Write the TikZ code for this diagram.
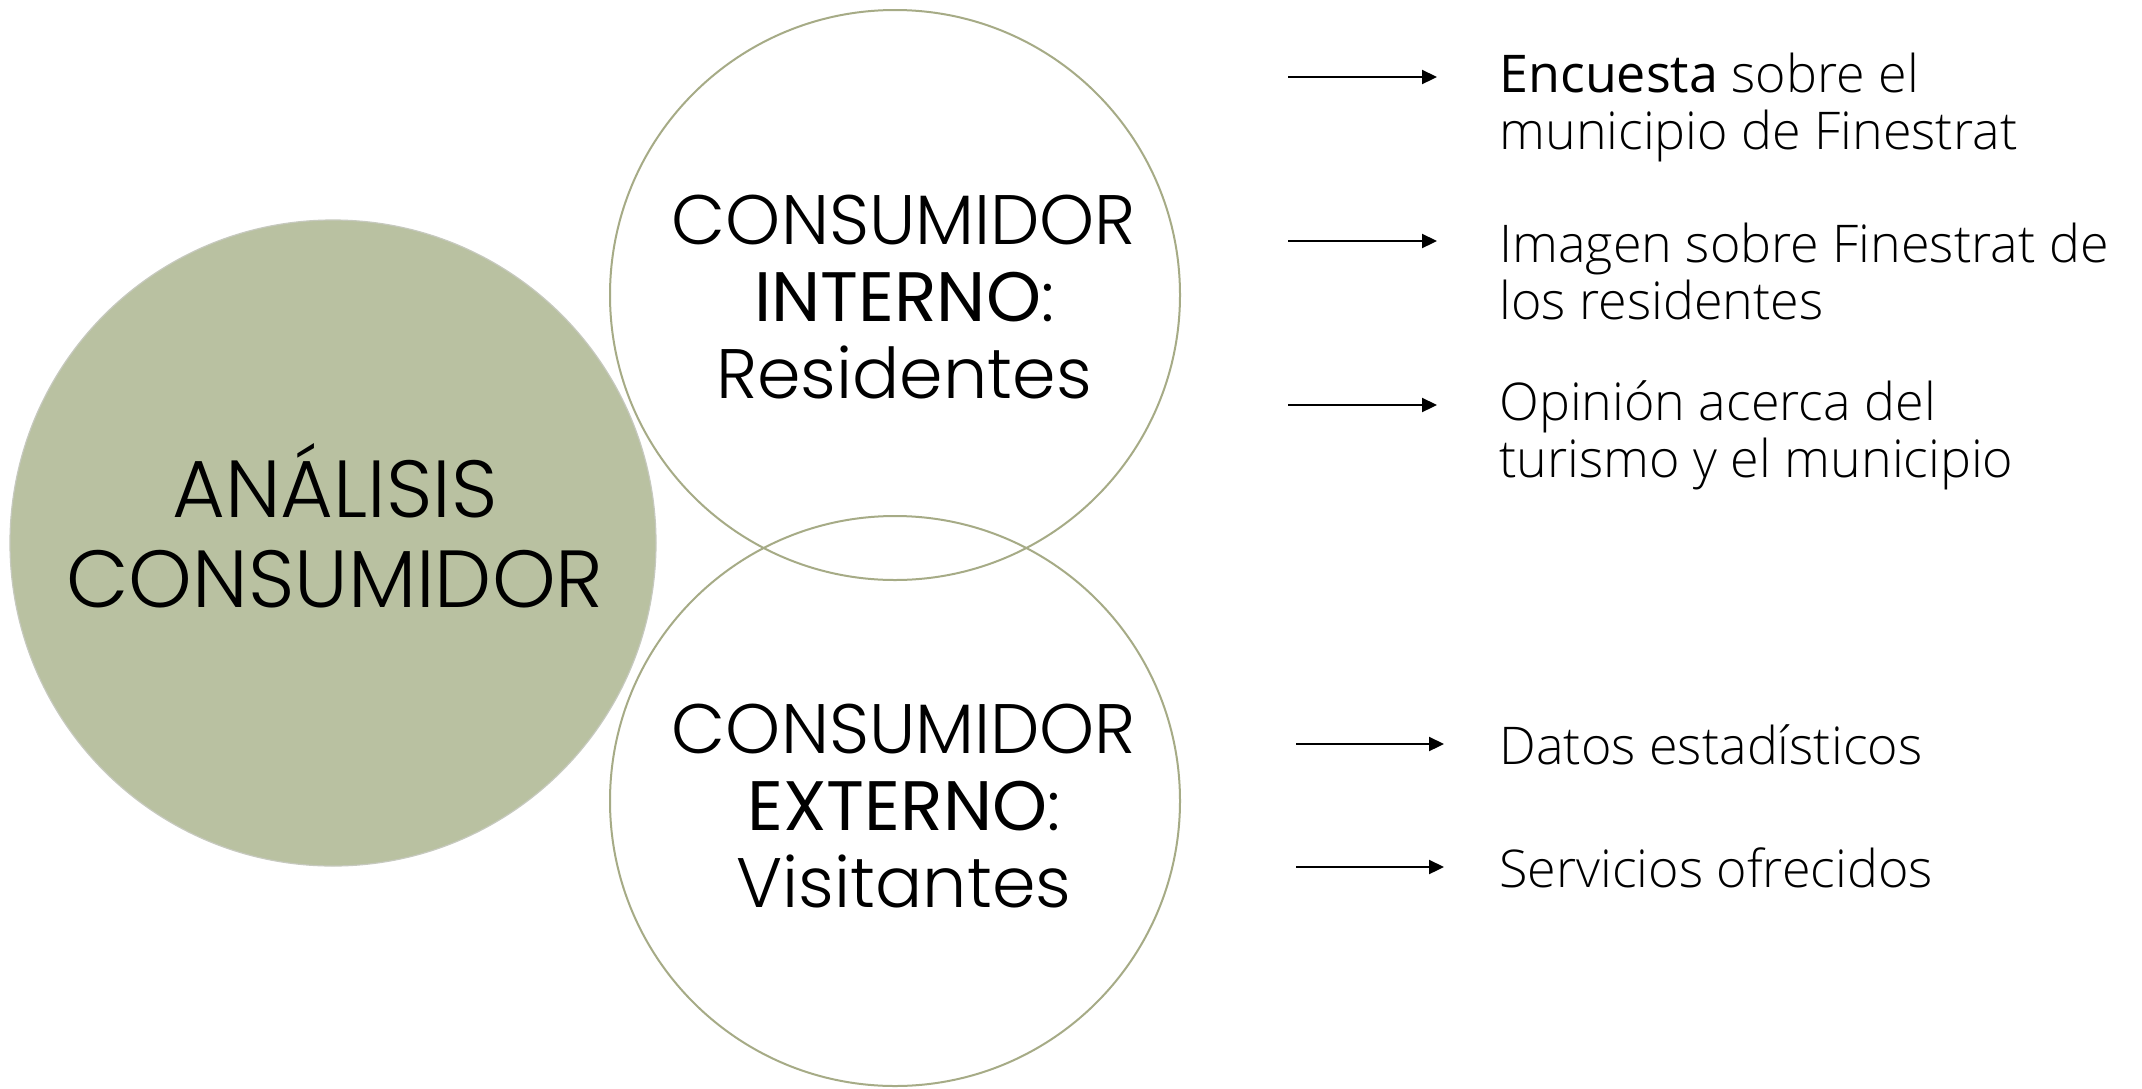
\documentclass[tikz,border=0pt]{standalone}
\usepackage{fontspec}
\newfontfamily\mlight{Poppins Light}
\newfontfamily\mreg{Poppins}
\newfontfamily\olight{Open Sans Light}
\newfontfamily\oreg{Open Sans}
\usetikzlibrary{arrows.meta}
\definecolor{sage}{HTML}{B9C1A1}
\definecolor{olivering}{HTML}{A6AB86}
\definecolor{sageedge}{HTML}{C6C9BE}
\begin{document}
\begin{tikzpicture}[x=0.5pt,y=-0.5pt,
  bigcirc/.style={circle, fill=sage, draw=sageedge, line width=0.6pt, minimum size=323pt, inner sep=0pt},
  ringcirc/.style={circle, draw=olivering, line width=1pt, minimum size=285pt, inner sep=0pt},
  bigtext/.style={align=center, inner sep=0pt, font={\mlight\fontsize{40.5}{45}\selectfont}},
  ringtext/.style={align=center, inner sep=0pt, font={\mlight\fontsize{35}{38.5}\selectfont}},
  rtext/.style={anchor=west, align=left, inner sep=0pt, font={\olight\fontsize{26}{28.5}\selectfont}},
  arr/.style={-{Triangle[length=7.5pt,width=7pt]}, line width=1.1pt, black}]
\useasboundingbox (0,0) rectangle (2142,1088);
\fill[white] (0,0) rectangle (2142,1088);

\node[bigcirc] (main) at (333,543) {};
\node[ringcirc] (int) at (895,295) {};
\node[ringcirc] (ext) at (895,801) {};

\node[bigtext] (maintxt) at (335,526) {ANÁLISIS\\CONSUMIDOR};
\node[ringtext] (inttxt) at (904,297) {CONSUMIDOR\\{\mreg INTERNO}:\\Residentes};
\node[ringtext] (exttxt) at (904,806) {CONSUMIDOR\\{\mreg EXTERNO}:\\Visitantes};

\node[rtext] (t1) at (1499,107) {{\oreg Encuesta} sobre el\\municipio de Finestrat};
\node[rtext] (t2) at (1499,271) {Imagen sobre Finestrat de\\los residentes};
\node[rtext] (t3) at (1499,435) {Opinión acerca del\\turismo y el municipio};
\node[rtext] (t4) at (1499,745) {Datos estadísticos};
\node[rtext] (t5) at (1499,868) {Servicios ofrecidos};

\coordinate (a1s) at (1288,77);  \coordinate (a1e) at (1437,77);
\coordinate (a2s) at (1288,241); \coordinate (a2e) at (1437,241);
\coordinate (a3s) at (1288,405); \coordinate (a3e) at (1437,405);
\coordinate (a4s) at (1296,744); \coordinate (a4e) at (1444,744);
\coordinate (a5s) at (1296,867); \coordinate (a5e) at (1444,867);
\draw[arr] (a1s) -- (a1e);
\draw[arr] (a2s) -- (a2e);
\draw[arr] (a3s) -- (a3e);
\draw[arr] (a4s) -- (a4e);
\draw[arr] (a5s) -- (a5e);
\end{tikzpicture}
\end{document}
